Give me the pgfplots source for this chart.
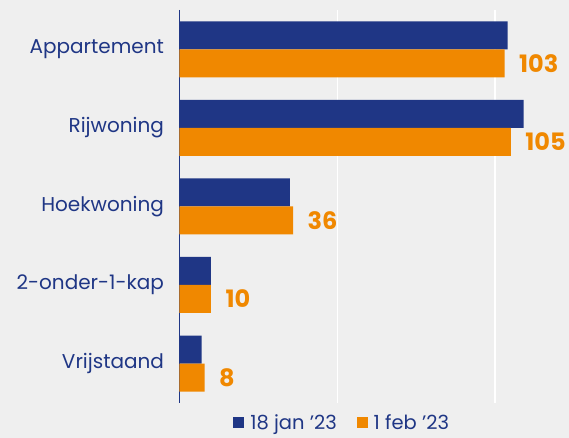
\documentclass[border=0pt]{standalone}
\usepackage{pgfplots}
\pgfplotsset{compat=1.18}
\usepackage{fontspec}
\setmainfont{Poppins}
\definecolor{navy}{HTML}{1F3685}
\definecolor{orng}{HTML}{F08800}
\definecolor{bg}{HTML}{EFEFEF}

\begin{document}
\begin{tikzpicture}
% grey background of the whole picture
\fill[bg] (-179.5pt,-35pt) rectangle (389.5pt,403pt);
\begin{axis}[
  at={(0pt,0pt)}, anchor=south west,
  scale only axis, width=379pt, height=393pt,
  xbar, bar width=28pt,
  xmin=0, xmax=120,
  ymin=-0.5, ymax=4.5, y dir=reverse,
  ytick={0,...,4},
  yticklabels={Appartement,Rijwoning,Hoekwoning,2-onder-1-kap,Vrijstaand},
  xtick={50,100}, xticklabels={},
  major tick length=0pt,
  xmajorgrids, grid style={white, line width=1.5pt},
  axis x line*=bottom, axis y line*=left,
  x axis line style={draw=none},
  y axis line style={navy, line width=1pt, -},
  yticklabel style={font=\fontsize{20}{22}\selectfont, text=navy, xshift=-12pt},
  clip=false,
  legend columns=2,
  legend style={at={(0.435,0)}, anchor=north, yshift=-8pt, draw=none, fill=none,
    font=\fontsize{19.5}{22}\selectfont, text=navy,
    nodes={inner xsep=6pt},
    /tikz/every even column/.append style={column sep=14pt}},
  legend image code/.code={\fill[#1] (0pt,-5pt) rectangle (11pt,6pt);},
]
% 18 jan '23
\addplot[fill=navy, draw=none, bar shift=14pt]
  coordinates {(104,0) (109,1) (35,2) (10,3) (7,4)};
\addlegendentry{18 jan '23}
% 1 feb '23, with value labels
\addplot[fill=orng, draw=none, bar shift=-14pt, point meta=x,
  nodes near coords={\pgfmathprintnumber[assume math mode=true]{\pgfplotspointmeta}},
  nodes near coords style={text=orng, font=\fontsize{24}{26}\selectfont\bfseries, anchor=west, xshift=11pt}]
  coordinates {(103,0) (105,1) (36,2) (10,3) (8,4)};
\addlegendentry{1 feb '23}
\end{axis}
\end{tikzpicture}
\end{document}
